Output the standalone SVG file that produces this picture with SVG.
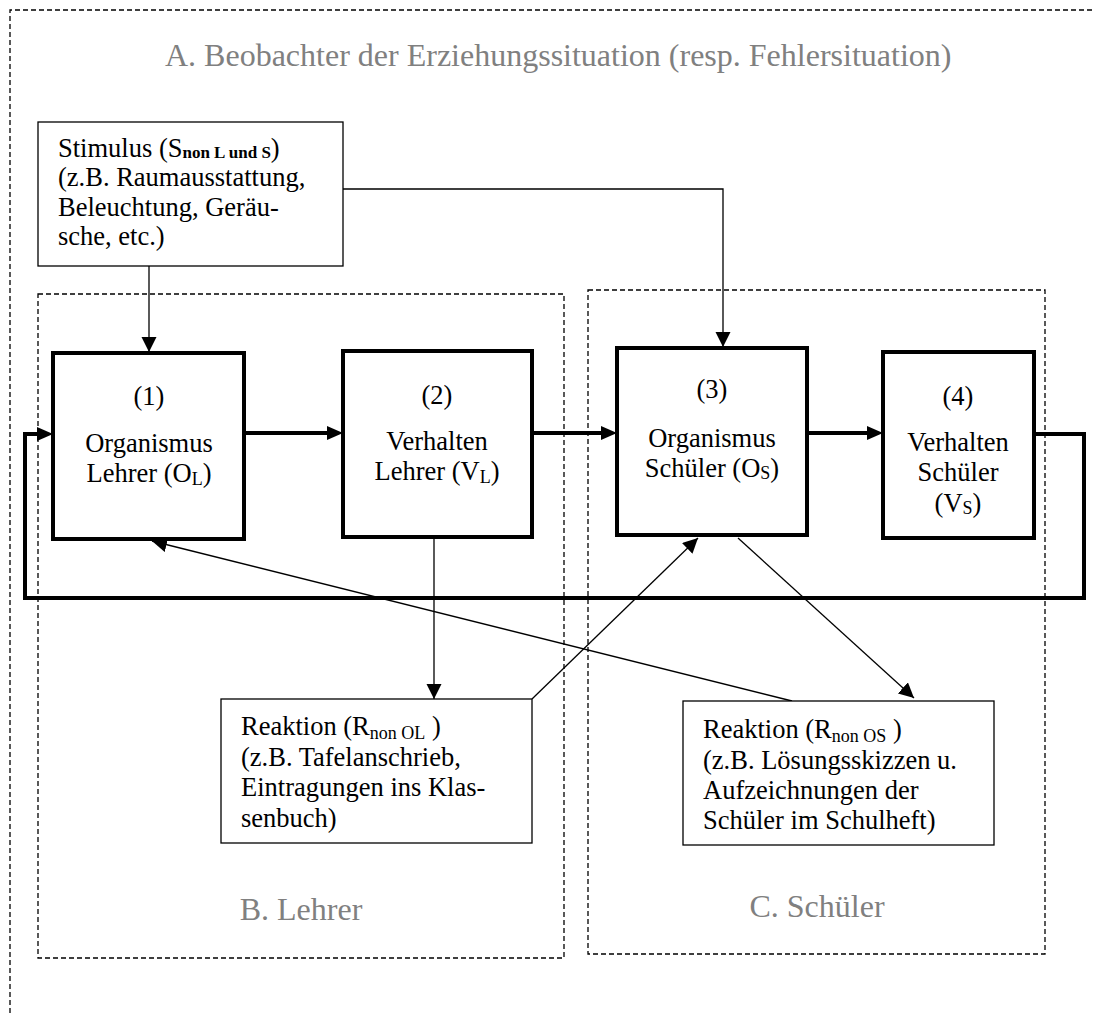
<svg xmlns="http://www.w3.org/2000/svg" width="1093" height="1013" viewBox="0 0 1093 1013">
  <style>
    text { font-family: "Liberation Serif", "Times New Roman", serif; fill: #000; }
    .t { font-size: 26.5px; }
    .mid { text-anchor: middle; }
    .area { font-size: 32px; fill: #808080; }
    .dash { fill: none; stroke: #000; stroke-width: 1.3; stroke-dasharray: 5 3; }
    .box { fill: #fff; stroke: #000; stroke-width: 1.3; }
    .core { fill: #fff; stroke: #000; stroke-width: 4; }
    .thin { fill: none; stroke: #000; stroke-width: 1.3; }
    .thick { fill: none; stroke: #000; stroke-width: 4; }
    .sub { font-size: 18px; }
    .subb { font-size: 17px; font-weight: bold; }
  </style>
  <defs>
    <marker id="headThin" markerUnits="userSpaceOnUse" markerWidth="16" markerHeight="16" refX="15" refY="7.5" orient="auto">
      <path d="M0,0 L15,7.5 L0,15 z" fill="#000"/>
    </marker>
    <marker id="headThick" markerUnits="userSpaceOnUse" markerWidth="18" markerHeight="16" refX="6" refY="7" orient="auto">
      <path d="M0,0 L16,7 L0,14 z" fill="#000"/>
    </marker>
  </defs>

  <rect width="1093" height="1013" fill="#fff"/>

  <!-- observer frame -->
  <g id="areaA">
    <path class="dash" d="M10,1013 V10 H1093"/>
    <text class="area" x="165" y="66">A. Beobachter der Erziehungssituation (resp. Fehlersituation)</text>
  </g>

  <!-- teacher area -->
  <g id="areaB">
    <rect class="dash" x="38" y="294" width="526" height="664"/>
    <text class="area mid" x="301" y="920">B. Lehrer</text>
  </g>

  <!-- pupil area -->
  <g id="areaC">
    <rect class="dash" x="588" y="290" width="457" height="664"/>
    <text class="area mid" x="817" y="917">C. Schüler</text>
  </g>

  <!-- connectors -->
  <g id="connectors">
    <path class="thin" d="M343,189 H723 V347" marker-end="url(#headThin)"/>
    <path class="thin" d="M149,266 V352" marker-end="url(#headThin)"/>
    <path class="thick" d="M244,433 H333" marker-end="url(#headThick)"/>
    <path class="thick" d="M532,433 H607" marker-end="url(#headThick)"/>
    <path class="thick" d="M807,433 H873" marker-end="url(#headThick)"/>
    <path class="thick" d="M1034,434 H1084 V598 H25 V434 H43" marker-end="url(#headThick)"/>
    <path class="thin" d="M434,537 V699" marker-end="url(#headThin)"/>
    <path class="thin" d="M532,699 L698,538" marker-end="url(#headThin)"/>
    <path class="thin" d="M738,538 L914,698" marker-end="url(#headThin)"/>
    <path class="thin" d="M792,701 L152,541" marker-end="url(#headThin)"/>
  </g>

  <g id="stimulus">
    <rect class="box" x="38" y="122" width="305" height="144"/>
    <text class="t" x="58" y="157">Stimulus (S<tspan class="subb" dy="1">non L und S</tspan><tspan dy="-1">)</tspan></text>
    <text class="t" x="58" y="186">(z.B. Raumausstattung,</text>
    <text class="t" x="58" y="216">Beleuchtung, Geräu-</text>
    <text class="t" x="58" y="245">sche, etc.)</text>
  </g>

  <g id="node1">
    <rect class="core" x="53" y="353" width="191" height="186"/>
    <text class="t mid" x="149" y="405">(1)</text>
    <text class="t mid" x="149" y="452">Organismus</text>
    <text class="t mid" x="149" y="482">Lehrer (O<tspan class="sub" dy="3">L</tspan><tspan dy="-3">)</tspan></text>
  </g>

  <g id="node2">
    <rect class="core" x="343" y="351" width="189" height="186"/>
    <text class="t mid" x="437" y="404">(2)</text>
    <text class="t mid" x="437" y="450">Verhalten</text>
    <text class="t mid" x="437" y="480">Lehrer (V<tspan class="sub" dy="3">L</tspan><tspan dy="-3">)</tspan></text>
  </g>

  <g id="node3">
    <rect class="core" x="617" y="348" width="190" height="187"/>
    <text class="t mid" x="712" y="398">(3)</text>
    <text class="t mid" x="712" y="447">Organismus</text>
    <text class="t mid" x="712" y="477">Schüler (O<tspan class="sub" dy="2">S</tspan><tspan dy="-2">)</tspan></text>
  </g>

  <g id="node4">
    <rect class="core" x="883" y="352" width="151" height="186"/>
    <text class="t mid" x="958" y="405">(4)</text>
    <text class="t mid" x="958" y="451">Verhalten</text>
    <text class="t mid" x="958" y="481">Schüler</text>
    <text class="t mid" x="958" y="512">(V<tspan class="sub" dy="2">S</tspan><tspan dy="-2">)</tspan></text>
  </g>

  <g id="reaktionL">
    <rect class="box" x="221" y="699" width="311" height="144"/>
    <text class="t" x="241" y="735">Reaktion (R<tspan class="sub" dy="4">non OL</tspan><tspan dy="-4"> )</tspan></text>
    <text class="t" x="241" y="766">(z.B. Tafelanschrieb,</text>
    <text class="t" x="241" y="796">Eintragungen ins Klas-</text>
    <text class="t" x="241" y="827">senbuch)</text>
  </g>

  <g id="reaktionS">
    <rect class="box" x="683" y="701" width="311" height="144"/>
    <text class="t" x="703" y="738">Reaktion (R<tspan class="sub" dy="4">non OS</tspan><tspan dy="-4"> )</tspan></text>
    <text class="t" x="703" y="769">(z.B. Lösungsskizzen u.</text>
    <text class="t" x="703" y="799">Aufzeichnungen der</text>
    <text class="t" x="703" y="829">Schüler im Schulheft)</text>
  </g>
</svg>
